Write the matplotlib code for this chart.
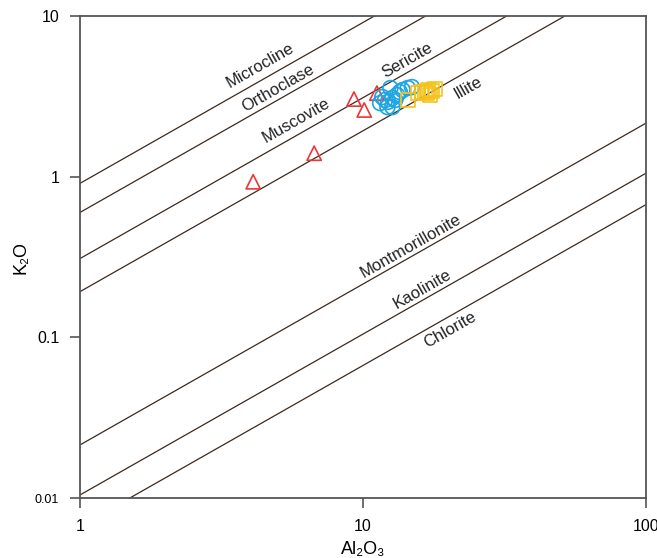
import numpy as np
import matplotlib.pyplot as plt

plt.rcParams['font.family'] = ['Liberation Sans', 'DejaVu Sans']

# K2O / Al2O3 ratios of reference minerals
minerals = ['Microcline', 'Orthoclase', 'Muscovite', 'Illite',
            'Montmorillonite', 'Kaolinite', 'Chlorite']
ratios = [0.91, 0.60, 0.31, 0.193, 0.0215, 0.0105, 0.0067]

# label positions (Al2O3, K2O)
label_names = ['Microcline', 'Orthoclase', 'Muscovite', 'Sericite', 'Illite',
               'Montmorillonite', 'Kaolinite', 'Chlorite']
label_x = [4.32, 5.0, 5.79, 14.3, 23.5, 14.7, 16.2, 20.3]
label_y = [4.95, 3.56, 2.25, 5.32, 3.56, 0.371, 0.20, 0.111]

# samples
tri_al = [4.09, 6.72, 9.29, 10.1, 11.2]
tri_k = [0.93, 1.40, 3.04, 2.60, 3.31]

circ_al = [11.5, 11.97, 12.25, 12.7, 13.0, 12.7, 12.2, 13.2, 13.5, 13.8, 14.4, 14.9, 12.5, 11.7]
circ_k = [2.87, 3.0, 2.92, 3.09, 3.0, 2.71, 2.71, 3.22, 3.36, 3.46, 3.56, 3.61, 3.56, 3.13]

sq_al = [14.4, 15.7, 16.2, 16.6, 17.0, 17.5, 18.0, 17.3, 16.8]
sq_k = [3.0, 3.31, 3.36, 3.36, 3.46, 3.41, 3.51, 3.22, 3.31]

fig = plt.figure(figsize=(6.57, 5.58), dpi=100)
ax = fig.add_axes([0.122, 0.107, 0.861, 0.8645])
ax.set_xscale('log')
ax.set_yscale('log')
ax.set_xlim(1, 100)
ax.set_ylim(0.01, 10)

xx = np.array([1.0, 100.0])
line_col = '#3b2a1e'
for name, r in zip(minerals, ratios):
    ax.plot(xx, r * xx, color=line_col, lw=0.9, zorder=2)

# rotation of the 1:1 lines on screen
p0 = ax.transData.transform((1, 1))
p1 = ax.transData.transform((10, 10))
angle = np.degrees(np.arctan2(p1[1] - p0[1], p1[0] - p0[0]))

for name, x, y in zip(label_names, label_x, label_y):
    ax.text(x, y, name, rotation=angle, rotation_mode='anchor',
            ha='center', va='center', fontsize=12, color='#222222')

ax.scatter(tri_al, tri_k, marker='^', s=105, facecolors='none',
           edgecolors='#ee3535', linewidths=1.2, zorder=3)
ax.scatter(circ_al, circ_k, marker='o', s=115, facecolors='none',
           edgecolors='#1ea5e3', linewidths=1.2, zorder=3)
ax.scatter(sq_al, sq_k, marker='s', s=100, facecolors='none',
           edgecolors='#f5c21b', linewidths=1.2, zorder=3)

ax.xaxis.set_minor_locator(plt.NullLocator())
ax.yaxis.set_minor_locator(plt.NullLocator())
ax.set_xticks([1, 10, 100])
ax.set_xticklabels(['1', '10', '100'])
ax.set_yticks([0.01, 0.1, 1, 10])
ax.set_yticklabels(['0.01', '0.1', '1', '10'])
ax.tick_params(direction='out', length=7, width=1.2, color='#555555',
               labelsize=11.5, pad=8)
for lab in ax.get_yticklabels():
    if lab.get_text() == '0.01':
        lab.set_fontsize(9)
for sp in ax.spines.values():
    sp.set_color('#555555')
    sp.set_linewidth(1.3)

ax.set_xlabel('Al₂O₃', fontsize=13, labelpad=5)
ax.set_ylabel('K₂O', fontsize=13, labelpad=4)

fig.savefig('out.png', dpi=100)
